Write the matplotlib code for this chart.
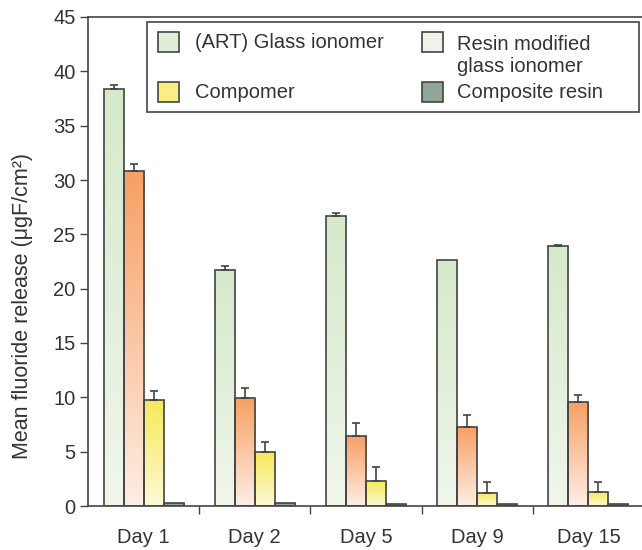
import numpy as np
import matplotlib
matplotlib.use('Agg')
import matplotlib.pyplot as plt
from matplotlib.colors import LinearSegmentedColormap
from matplotlib.patches import Rectangle
from matplotlib.transforms import Affine2D

plt.rcParams['font.family'] = ['Liberation Sans', 'DejaVu Sans']

days = ['Day 1', 'Day 2', 'Day 5', 'Day 9', 'Day 15']
series = ['(ART) Glass ionomer', 'Resin modified\nglass ionomer', 'Compomer', 'Composite resin']

art_gic = [38.4, 21.7, 26.7, 22.6, 23.9]
art_err = [0.3, 0.4, 0.3, 0.0, 0.1]
rmgic = [30.8, 9.9, 6.4, 7.3, 9.6]
rmgic_err = [0.7, 1.0, 1.2, 1.1, 0.6]
compomer = [9.8, 5.0, 2.3, 1.2, 1.3]
compomer_err = [0.8, 0.9, 1.3, 1.0, 0.9]
composite = [0.3, 0.25, 0.15, 0.15, 0.15]

values = [art_gic, rmgic, compomer, composite]
errors = [art_err, rmgic_err, compomer_err, None]

# (top colour, bottom colour) for the gradient fill of each series
grad = [('#d6e9cb', '#f0f6ec'),
        ('#f7a064', '#fdeee4'),
        ('#f7e957', '#fdf9d6'),
        ('#8ea596', '#8ea596')]
legend_cols = ['#dfeed6', '#eef3ea', '#f8ee84', '#90a798']

W, H = 642, 550
fig = plt.figure(figsize=(W / 100, H / 100), dpi=100)
ax = fig.add_axes([88 / W, 44 / H, (W - 88) / W, (506 - 17) / H])

bw = 0.18
off = (1 - 4 * bw) / 2
edge = '#444444'
txt = '#333333'

for s in range(4):
    cmap = LinearSegmentedColormap.from_list('g%d' % s, [grad[s][1], grad[s][0]])
    for i, v in enumerate(values[s]):
        x0 = i + off + s * bw
        bar = ax.bar(x0, v, bw, align='edge', facecolor='none',
                     edgecolor=edge, linewidth=1.2, zorder=3)[0]
        img = ax.imshow(np.linspace(0, 1, 100).reshape(-1, 1), cmap=cmap,
                        extent=[x0, x0 + bw, 0, v], origin='lower',
                        aspect='auto', zorder=2)
        img.set_clip_path(bar)
        if errors[s] is not None and errors[s][i] > 0:
            ax.errorbar(x0 + bw / 2, v, yerr=[[0], [errors[s][i]]], fmt='none',
                        ecolor=edge, elinewidth=1.2, capsize=3, capthick=1.2,
                        zorder=4)

ax.set_xlim(0, (W - 88) / 111.2)
ax.set_ylim(0, 45)

ax.set_yticks(np.arange(0, 46, 5))
ax.set_xticks([1, 2, 3, 4])
ax.set_xticklabels([])
ax.set_xticks(np.arange(5) + 0.5, minor=True)
ax.set_xticklabels(days, minor=True)
ax.tick_params(axis='x', which='major', length=6, width=1, color=edge, direction='out')
ax.tick_params(axis='x', which='minor', length=0, pad=16, labelsize=14.5, labelcolor=txt)
ax.tick_params(axis='y', length=6, width=1, color=edge, labelsize=14.5, labelcolor=txt, pad=3)

for sp in ['left', 'bottom', 'top']:
    ax.spines[sp].set_color(edge)
    ax.spines[sp].set_linewidth(1.2)
ax.spines['right'].set_visible(False)

ax.set_ylabel('Mean fluoride release (\u03bcgF/cm\u00b2)', fontsize=15.5, color=txt)
ax.yaxis.set_label_coords(-0.1, 0.41)

# legend box drawn in figure pixel coordinates (origin top-left)
px = Affine2D().scale(1 / W, -1 / H).translate(0, 1) + fig.transFigure
fig.patches.append(Rectangle((147, 22), 492, 90, transform=px, facecolor='white',
                             edgecolor=edge, linewidth=1.2, zorder=5))
leg_items = [(0, 158, 32, 195, 43),
             (2, 158, 82, 195, 92),
             (1, 422, 32, 457, 55),
             (3, 422, 82, 457, 93)]
for k, hx, hy, tx, ty in leg_items:
    fig.patches.append(Rectangle((hx, hy), 21, 20, transform=px, facecolor=legend_cols[k],
                                 edgecolor=edge, linewidth=1.2, zorder=6))
    fig.text(tx, ty, series[k], transform=px, fontsize=14.5, color=txt,
             va='center', ha='left', linespacing=1.2, zorder=6)

fig.savefig('out.png', dpi=100)
